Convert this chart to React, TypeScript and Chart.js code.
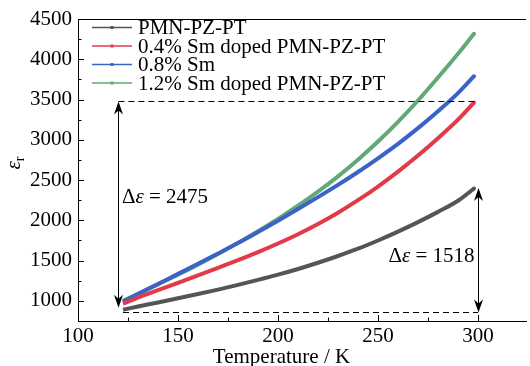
import React, { useEffect, useRef } from 'react';
import { Chart, registerables } from 'chart.js';

Chart.register(...registerables);

const temperatures = [122.5, 130, 140, 150, 160, 170, 180, 190, 200, 210, 220, 230, 240, 250, 260, 270, 280, 290, 298];
const pmnValues = [890, 930, 980, 1032, 1085, 1140, 1198, 1260, 1325, 1396, 1473, 1557, 1648, 1750, 1860, 1978, 2105, 2243, 2395];
const sm04Values = [965, 1040, 1132, 1224, 1316, 1410, 1505, 1605, 1712, 1828, 1955, 2095, 2250, 2420, 2605, 2805, 3020, 3250, 3462];
const sm08Values = [990, 1085, 1210, 1335, 1460, 1588, 1718, 1855, 1995, 2140, 2288, 2440, 2600, 2770, 2950, 3145, 3355, 3580, 3790];
const sm12Values = [1000, 1087, 1205, 1325, 1450, 1581, 1720, 1865, 2018, 2181, 2356, 2546, 2753, 2978, 3223, 3488, 3773, 4068, 4316];

const seriesLabels = ['PMN-PZ-PT', '0.4% Sm doped PMN-PZ-PT', '0.8% Sm', '1.2% Sm doped PMN-PZ-PT'];
const seriesColors = ['#555555', '#e23a47', '#3b62c6', '#62a878'];

const xTickValues = [100, 150, 200, 250, 300];
const xMinorValues = [125, 175, 225, 275];
const yTickValues = [1000, 1500, 2000, 2500, 3000, 3500, 4000, 4500];
const yMinorValues = [1250, 1750, 2250, 2750, 3250, 3750, 4250];

const deltaLeftText = '2475';
const deltaRightText = '1518';
const upperDashValue = 3476;
const lowerDashValue = 867;
const leftArrowT = 120.2;
const leftArrowBottom = 915;
const rightArrowT = 300;
const rightArrowTop = 2400;

const FONT = '"Liberation Serif", "Times New Roman", serif';

function arrowHead(ctx: CanvasRenderingContext2D, x: number, y: number, dir: number) {
  const L = 13, W = 4.5, N = 9;
  ctx.beginPath();
  ctx.moveTo(x, y);
  ctx.lineTo(x - W, y - dir * L);
  ctx.lineTo(x, y - dir * N);
  ctx.lineTo(x + W, y - dir * L);
  ctx.closePath();
  ctx.fill();
}

function drawDelta(ctx: CanvasRenderingContext2D, x: number, y: number, value: string, align: 'left' | 'right') {
  const parts: [string, string][] = [
    ['Δ', `21px ${FONT}`],
    ['ε', `italic 21px ${FONT}`],
    [' = ' + value, `21px ${FONT}`],
  ];
  let total = 0;
  for (const [t, f] of parts) { ctx.font = f; total += ctx.measureText(t).width; }
  let cx = align === 'right' ? x - total : x;
  ctx.textBaseline = 'middle';
  ctx.textAlign = 'left';
  for (const [t, f] of parts) {
    ctx.font = f;
    ctx.fillText(t, cx, y);
    cx += ctx.measureText(t).width;
  }
}

const overlay = {
  id: 'overlay',
  afterDatasetsDraw(chart: any) {
    const { ctx, chartArea } = chart;
    const xs = chart.scales.x;
    const ys = chart.scales.y;
    ctx.save();
    ctx.strokeStyle = '#000';
    ctx.fillStyle = '#000';
    ctx.lineWidth = 1;

    ctx.beginPath();
    ctx.moveTo(chartArea.left, chartArea.top + 0.5);
    ctx.lineTo(chartArea.right, chartArea.top + 0.5);
    ctx.stroke();

    const bottom = chartArea.bottom;
    const left = chartArea.left;
    ctx.beginPath();
    for (const v of xTickValues) {
      const px = Math.round(xs.getPixelForValue(v)) + 0.5;
      ctx.moveTo(px, bottom); ctx.lineTo(px, bottom - 6);
    }
    for (const v of xMinorValues) {
      const px = Math.round(xs.getPixelForValue(v)) + 0.5;
      ctx.moveTo(px, bottom); ctx.lineTo(px, bottom - 3.5);
    }
    for (const v of yTickValues) {
      const py = Math.round(ys.getPixelForValue(v)) + 0.5;
      ctx.moveTo(left, py); ctx.lineTo(left + 6, py);
    }
    for (const v of yMinorValues) {
      const py = Math.round(ys.getPixelForValue(v)) + 0.5;
      ctx.moveTo(left, py); ctx.lineTo(left + 3.5, py);
    }
    ctx.stroke();

    const xl = xs.getPixelForValue(leftArrowT);
    const xr = xs.getPixelForValue(rightArrowT);
    const yUp = Math.round(ys.getPixelForValue(upperDashValue)) + 0.5;
    const yLo = Math.round(ys.getPixelForValue(lowerDashValue)) + 0.5;
    ctx.setLineDash([6, 4]);
    ctx.beginPath();
    ctx.moveTo(xl, yUp); ctx.lineTo(xr, yUp);
    ctx.moveTo(xs.getPixelForValue(temperatures[0]), yLo); ctx.lineTo(xr, yLo);
    ctx.stroke();
    ctx.setLineDash([]);

    const xla = Math.round(xl) + 0.5;
    const yla = ys.getPixelForValue(leftArrowBottom);
    ctx.beginPath();
    ctx.moveTo(xla, yUp + 4); ctx.lineTo(xla, yla - 4);
    ctx.stroke();
    arrowHead(ctx, xla, yUp, -1);
    arrowHead(ctx, xla, yla, 1);

    const xra = Math.round(xr) + 0.5;
    const yra = ys.getPixelForValue(rightArrowTop);
    ctx.beginPath();
    ctx.moveTo(xra, yra + 4); ctx.lineTo(xra, yLo - 4);
    ctx.stroke();
    arrowHead(ctx, xra, yra, -1);
    arrowHead(ctx, xra, yLo, 1);

    drawDelta(ctx, xs.getPixelForValue(122), ys.getPixelForValue(2278), deltaLeftText, 'left');
    drawDelta(ctx, xs.getPixelForValue(298.3), ys.getPixelForValue(1546), deltaRightText, 'right');

    ctx.restore();
  },
  afterDraw(chart: any) {
    const { ctx } = chart;
    ctx.save();
    const rowY = [27.5, 46, 64.5, 83];
    seriesLabels.forEach((label, i) => {
      const y = rowY[i];
      ctx.strokeStyle = seriesColors[i];
      ctx.fillStyle = seriesColors[i];
      ctx.lineWidth = 1.5;
      ctx.beginPath();
      ctx.moveTo(92, y); ctx.lineTo(132, y);
      ctx.stroke();
      ctx.fillRect(110.5, y - 1.5, 3, 3);
      ctx.fillStyle = '#000';
      ctx.font = `21px ${FONT}`;
      ctx.textAlign = 'left';
      ctx.textBaseline = 'middle';
      ctx.fillText(label, 138, y + 1);
    });

    ctx.fillStyle = '#000';
    ctx.font = `21px ${FONT}`;
    ctx.textAlign = 'center';
    ctx.textBaseline = 'middle';
    ctx.fillText('Temperature / K', 281.5, 357);

    ctx.translate(14, 163);
    ctx.rotate(-Math.PI / 2);
    ctx.font = `italic 21px ${FONT}`;
    const w1 = ctx.measureText('ε').width;
    ctx.font = `14px ${FONT}`;
    const w2 = ctx.measureText('r').width;
    const start = -(w1 + w2) / 2;
    ctx.textAlign = 'left';
    ctx.textBaseline = 'alphabetic';
    ctx.font = `italic 21px ${FONT}`;
    ctx.fillText('ε', start, 6);
    ctx.font = `14px ${FONT}`;
    ctx.fillText('r', start + w1, 10);
    ctx.restore();
  },
};

export default function App() {
  const ref = useRef<HTMLCanvasElement>(null);
  useEffect(() => {
    const series = [pmnValues, sm04Values, sm08Values, sm12Values];
    const chart = new Chart(ref.current as HTMLCanvasElement, {
      type: 'line',
      data: {
        datasets: series.map((vals, i) => ({
          label: seriesLabels[i],
          data: vals.map((v, j) => ({ x: temperatures[j], y: v })),
          borderColor: seriesColors[i],
          backgroundColor: seriesColors[i],
          borderWidth: 4,
          pointRadius: vals.map((_, j) => (j === vals.length - 1 ? 2 : 0)),
          pointBorderWidth: 0,
          pointBackgroundColor: seriesColors[i],
          cubicInterpolationMode: 'monotone',
          fill: false,
        })),
      },
      options: {
        responsive: false,
        animation: false,
        layout: { padding: { top: 19, right: 0, left: 0, bottom: 0 } },
        plugins: { legend: { display: false }, tooltip: { enabled: false } },
        scales: {
          x: {
            type: 'linear',
            min: 100,
            max: 324,
            grid: { display: false, drawTicks: false },
            border: { display: true, color: '#000', width: 1 },
            afterBuildTicks: (s: any) => { s.ticks = xTickValues.map((v) => ({ value: v })); },
            afterFit: (s: any) => { s.height = 45; },
            ticks: { font: { family: FONT, size: 21 }, color: '#000', padding: 3, maxRotation: 0, autoSkip: false, callback: (v: any) => String(v) },
          },
          y: {
            type: 'linear',
            min: 750,
            max: 4500,
            grid: { display: false, drawTicks: false },
            border: { display: true, color: '#000', width: 1 },
            afterBuildTicks: (s: any) => { s.ticks = yTickValues.map((v) => ({ value: v })); },
            afterFit: (s: any) => { s.width = 78; },
            ticks: { font: { family: FONT, size: 21 }, color: '#000', padding: 6, autoSkip: false, callback: (v: any) => String(v) },
          },
        },
      },
      plugins: [overlay],
    } as any);
    return () => chart.destroy();
  }, []);
  return (
    <div style={{ position: 'fixed', left: 0, top: 0, width: 530, height: 366, background: '#fff' }}>
      <canvas ref={ref} width={530} height={366} />
    </div>
  );
}
